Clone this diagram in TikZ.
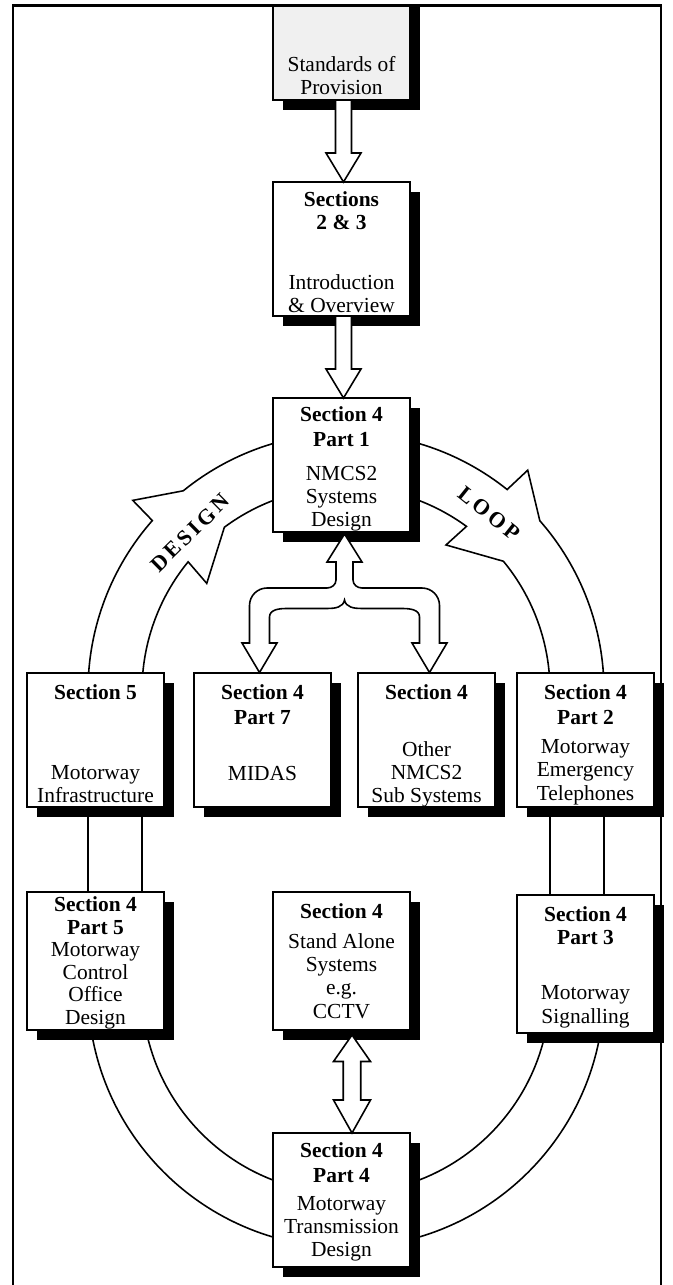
\documentclass[tikz,border=0pt]{standalone}
\usepackage{fontspec}
\setmainfont{Liberation Serif}
\newfontfamily\loopfont[LetterSpace=15]{Liberation Serif}
\usetikzlibrary{positioning,calc,shadows}

\tikzset{
  sbox/.style={rectangle, draw, fill=white, line width=0.9pt, minimum width=2.74cm, minimum height=2.68cm,
    inner sep=0pt, outer sep=0pt, align=center, font=\fontsize{12.2}{13.2}\selectfont,
    drop shadow={shadow xshift=0.2cm, shadow yshift=-0.2cm, fill=black, opacity=1}},
  fatarrow/.style={draw, fill=white, line width=0.9pt},
  loopline/.style={draw, line width=0.9pt},
  looptext/.style={font=\loopfont\bfseries\fontsize{12.5}{14}\selectfont, inner sep=0pt}
}

\begin{document}
\begin{tikzpicture}
\useasboundingbox (0,0) rectangle (13.46,-25.70);
\coordinate (ringU) at (6.92,-13.82);
\coordinate (ringL) at (6.92,-19.79);

% the design loop, outer and inner edge
\draw[loopline] ($(ringU)+(129.1:5.16)$) arc[start angle=129.1, end angle=51.35, radius=5.16]
  -- ($(ringU)+(50.55:5.72)$) -- ($(ringU)+(41.3:5.16)$) arc[start angle=41.3, end angle=0, radius=5.16]
  -- ($(ringL)+(0:5.16)$) arc[start angle=0, end angle=-180, radius=5.16]
  -- ($(ringU)+(180:5.16)$) arc[start angle=180, end angle=138.65, radius=5.16]
  -- ($(ringU)+(138.2:5.72)$) -- cycle;
\draw[loopline] ($(ringU)+(126.6:4.08)$) arc[start angle=126.6, end angle=53.8, radius=4.08]
  -- ($(ringU)+(55.6:3.54)$) -- ($(ringU)+(39.5:4.08)$) arc[start angle=39.5, end angle=0, radius=4.08]
  -- ($(ringL)+(0:4.08)$) arc[start angle=0, end angle=-180, radius=4.08]
  -- ($(ringU)+(180:4.08)$) arc[start angle=180, end angle=140.7, radius=4.08]
  -- ($(ringU)+(142.3:3.52)$) -- cycle;

% main column
\begin{scope}
\clip (0.26,-0.11) rectangle (13.22,-26);
\node[sbox, fill=black!6, text height=2.58cm, text depth=0.10cm] (sop) at (6.83,-0.66) {Standards of\\Provision};
\end{scope}
\node[sbox, below=1.64cm of sop, text height=2.61cm, text depth=0.07cm] (sec23) {\textbf{Sections}\\\textbf{2 \& 3}\\[20.8pt]Introduction\\\& Overview};
\node[sbox, below=1.64cm of sec23, text height=2.57cm, text depth=0.11cm] (part1) {\textbf{Section 4}\\[1pt]\textbf{Part 1}\\[6.2pt]NMCS2\\Systems\\Design};

% second row
\node[sbox, text height=2.59cm, text depth=0.09cm] (sec5) at (1.91,-14.80) {\textbf{Section 5}\\[32.3pt]Motorway\\Infrastructure};
\node[sbox, right=0.6cm of sec5, text height=2.14cm, text depth=0.54cm] (part7) {\textbf{Section 4}\\[1pt]\textbf{Part 7}\\[18.5pt]MIDAS};
\node[sbox, right=0.54cm of part7, text height=2.59cm, text depth=0.09cm] (other) {\textbf{Section 4}\\[19.1pt]Other\\NMCS2\\Sub Systems};
\node[sbox, right=0.44cm of other, text height=2.54cm, text depth=0.14cm] (part2) {\textbf{Section 4}\\[1pt]\textbf{Part 2}\\[3.4pt]Motorway\\Emergency\\Telephones};

% third row
\node[sbox, minimum height=2.76cm, font=\fontsize{12.2}{12.8}\selectfont, below=1.70cm of sec5, text height=2.64cm, text depth=0.12cm] (part5) {\textbf{Section 4}\\\textbf{Part 5}\\Motorway\\Control\\Office\\Design};
\node[sbox, minimum height=2.76cm, text height=2.52cm, text depth=0.24cm] (stand) at (part1 |- part5) {\textbf{Section 4}\\[4.1pt]Stand Alone\\Systems\\e.g.\\CCTV};
\node[sbox, minimum height=2.76cm, below=1.76cm of part2, text height=2.56cm, text depth=0.20cm] (part3) {\textbf{Section 4}\\\textbf{Part 3}\\[18.3pt]Motorway\\Signalling};
\node[sbox, below=2.06cm of stand, text height=2.47cm, text depth=0.21cm] (part4) {\textbf{Section 4}\\[1pt]\textbf{Part 4}\\[2.8pt]Motorway\\Transmission\\Design};

% block arrows
\draw[fatarrow] ([xshift=-0.12cm]sop.south) -- ([xshift=-0.12cm,yshift=0.58cm]sec23.north) -- ([xshift=-0.31cm,yshift=0.58cm]sec23.north)
  -- ([xshift=0.04cm]sec23.north) -- ([xshift=0.39cm,yshift=0.58cm]sec23.north) -- ([xshift=0.2cm,yshift=0.58cm]sec23.north)
  -- ([xshift=0.2cm]sop.south) -- cycle;
\draw[fatarrow] ([xshift=-0.12cm]sec23.south) -- ([xshift=-0.12cm,yshift=0.58cm]part1.north) -- ([xshift=-0.31cm,yshift=0.58cm]part1.north)
  -- ([xshift=0.04cm]part1.north) -- ([xshift=0.39cm,yshift=0.58cm]part1.north) -- ([xshift=0.2cm,yshift=0.58cm]part1.north)
  -- ([xshift=0.2cm]sec23.south) -- cycle;

\begin{scope}[shift={($(part1.south)+(0.06,0)$)}]
\draw[fatarrow] (0,-0.04) -- (-0.35,-0.6) -- (-0.17,-0.6) -- (-0.17,-0.96) to[out=-90,in=0] (-0.35,-1.12) -- (-1.55,-1.12)
  to[out=180,in=90] (-1.9,-1.47) -- (-1.9,-2.22) -- (-2.05,-2.22) -- (-1.7,-2.81) -- (-1.35,-2.22) -- (-1.5,-2.22) -- (-1.5,-1.7)
  to[out=90,in=180] (-1.16,-1.53) -- (-0.34,-1.53) to[out=0,in=-100] (0,-1.36) to[out=-80,in=180] (0.34,-1.53) -- (1.16,-1.53)
  to[out=0,in=90] (1.5,-1.7) -- (1.5,-2.22) -- (1.35,-2.22) -- (1.7,-2.81) -- (2.05,-2.22) -- (1.9,-2.22) -- (1.9,-1.47)
  to[out=90,in=0] (1.55,-1.12) -- (0.35,-1.12) to[out=180,in=-90] (0.17,-0.96) -- (0.17,-0.6) -- (0.35,-0.6) -- cycle;
\end{scope}

\begin{scope}[shift={($(stand.south)+(0.21,0)$)}]
\draw[fatarrow] (0,-0.1) -- (0.37,-0.63) -- (0.175,-0.63) -- (0.175,-1.4) -- (0.37,-1.4) -- ([xshift=0.21cm]part4.north)
  -- (-0.37,-1.4) -- (-0.175,-1.4) -- (-0.175,-0.63) -- (-0.37,-0.63) -- cycle;
\end{scope}

% loop labels
\node[looptext, rotate=44.6] (design) at ($(ringU)+(134.6:4.44)$) {DESIGN};
\node[looptext, rotate=-38.8] (loop) at ($(ringU)+(51.2:4.56)$) {LOOP};

% frame
\draw[line width=1.4pt] (0.26,-26) -- (0.26,-0.11) -- (13.22,-0.11) -- (13.22,-26);
\end{tikzpicture}
\end{document}
